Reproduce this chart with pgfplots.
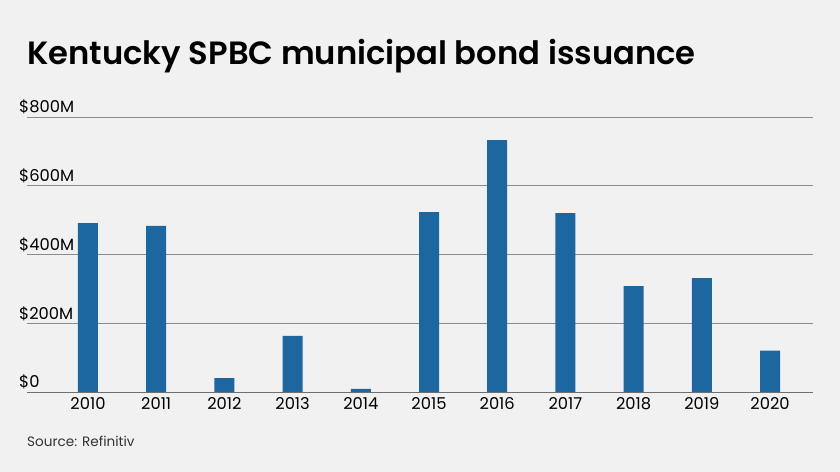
\documentclass[border=0pt]{standalone}
\usepackage{pgfplots}
\pgfplotsset{compat=1.18}
\usepackage{fontspec}
\setmainfont{Poppins}
\newfontfamily\titlefont{Poppins SemiBold}
\definecolor{bg}{HTML}{F0F1F0}
\definecolor{barblue}{HTML}{1D67A0}
\definecolor{grid}{HTML}{8A8A8A}
\begin{document}
\begin{tikzpicture}[x=1bp,y=1bp]
\fill[bg] (0,0) rectangle (840,472);
\node[anchor=base west, inner sep=0pt, text=black] at (27,407) {\fontsize{32.2bp}{36bp}\selectfont\titlefont Kentucky SPBC municipal bond issuance};
\node[anchor=base west, inner sep=0pt, text=black!80] at (27,25) {\fontsize{13.6bp}{15bp}\selectfont Source: Refinitiv};
\begin{axis}[
  at={(27bp,80bp)}, anchor=south west,
  scale only axis, width=786bp, height=275bp,
  xmin=-0.894, xmax=10.63, ymin=0, ymax=800,
  axis x line*=bottom, axis y line*=left,
  y axis line style={draw=none},
  x axis line style={draw=grid!80!black, line width=0.9bp},
  ymajorgrids, grid style={draw=grid, line width=0.9bp},
  ytick={0,200,400,600,800},
  yticklabels={\$0,\$200M,\$400M,\$600M,\$800M},
  yticklabel style={anchor=south west, inner sep=0pt, xshift=-8bp, yshift=2.5bp, font=\fontsize{16.3bp}{18bp}\selectfont},
  xtick={0,...,10},
  xticklabels={2010,2011,2012,2013,2014,2015,2016,2017,2018,2019,2020},
  xticklabel style={font=\fontsize{16.3bp}{18bp}\selectfont, yshift=-1.5bp},
  major tick length=0pt,
  ybar, bar width=20bp,
  /pgf/number format/assume math mode=true,
]
\addplot[fill=barblue, draw=none] coordinates {
(0,491) (1,483) (2,40) (3,163) (4,9) (5,523) (6,733) (7,520) (8,308) (9,331) (10,120)};
\end{axis}
\end{tikzpicture}
\end{document}
